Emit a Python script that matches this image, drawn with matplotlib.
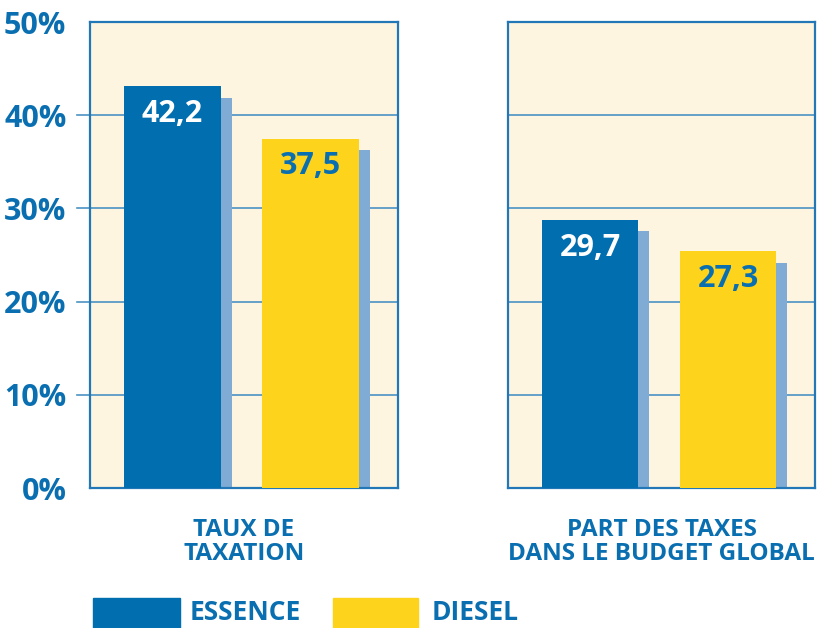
import matplotlib.pyplot as plt

# -------------------------------------------------
# data
# -------------------------------------------------
groups = ["TAUX DE\nTAXATION", "PART DES TAXES\nDANS LE BUDGET GLOBAL"]
series = ["ESSENCE", "DIESEL"]
essence_labels = ["42,2", "29,7"]
diesel_labels = ["37,5", "27,3"]
# heights as drawn in the picture (%)
essence_heights = [43.1, 28.8]
diesel_heights = [37.5, 25.4]
yticks = [0, 10, 20, 30, 40, 50]

BLUE = "#006eaf"
YELLOW = "#fdd31c"
SHADOW = "#80abd5"
CREAM = "#fdf5df"
FRAME = "#2277b6"
GRID = "#4b92c4"
TEXT = "#0a6fb0"

plt.rcParams['font.family'] = ['Open Sans', 'DejaVu Sans']
plt.rcParams['font.weight'] = 'bold'

fig = plt.figure(figsize=(8.21, 6.28), dpi=100)
W, H = 821, 628
boxes = [(90, 308), (508, 307)]

for i, (x0, w) in enumerate(boxes):
    ax = fig.add_axes([x0 / W, (H - 488) / H, w / W, 466 / H])
    ax.set_facecolor(CREAM)
    ax.set_xlim(-0.595, 1.63)
    ax.set_ylim(0, 50)

    for y in yticks[1:-1]:
        if i == 0:
            ax.axhline(y, xmin=-13 / w, xmax=1, color=GRID, lw=1.2,
                       clip_on=False, zorder=1)
        else:
            ax.axhline(y, color=GRID, lw=1.2, zorder=1)

    heights = [essence_heights[i], diesel_heights[i]]
    labels = [essence_labels[i], diesel_labels[i]]
    colors = [BLUE, YELLOW]
    label_colors = ["white", TEXT]
    for j in range(2):
        ax.bar(j + 0.08, heights[j] - 1.25, width=0.7, color=SHADOW, zorder=2)
        ax.bar(j, heights[j], width=0.7, color=colors[j], zorder=3)
        ax.text(j, heights[j] - 3.0, labels[j], ha='center', va='center',
                color=label_colors[j], fontsize=22, fontweight='bold', zorder=4)

    for s in ax.spines.values():
        s.set_color(FRAME)
        s.set_linewidth(1.6)
    ax.set_xticks([])
    if i == 0:
        ax.set_yticks(yticks)
        ax.set_yticklabels([f"{t}%" for t in yticks], color=TEXT,
                           fontsize=22, fontweight='bold')
        ax.tick_params(axis='y', length=0, pad=17)
    else:
        ax.set_yticks([])

    fig.text((x0 + w / 2) / W, 1 - 542 / H, groups[i], ha='center', va='center',
             color=TEXT, fontsize=17.5, fontweight='bold', linespacing=1.0)

# legend
leg_items = [(93, 180, 190, BLUE, series[0]), (333, 418, 432, YELLOW, series[1])]
for xa, xb, xt, c, name in leg_items:
    fig.patches.append(plt.Rectangle((xa / W, 1 - 628 / H), (xb - xa) / W, 30 / H,
                                     transform=fig.transFigure, color=c))
    fig.text(xt / W, 1 - 612 / H, name, ha='left', va='center', color=TEXT,
             fontsize=19, fontweight='bold')

fig.savefig("out.png", dpi=100)
